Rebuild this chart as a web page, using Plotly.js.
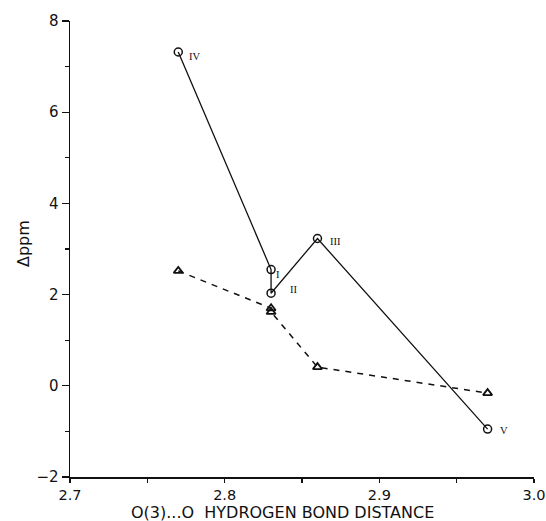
<!DOCTYPE html>
<html><head><meta charset="utf-8">
<script src="https://cdn.plot.ly/plotly-3.0.1.min.js"></script>
<style>body{margin:0;background:#fff}#chart{width:546px;height:521px}</style>
</head><body><div id="chart"></div>
<script>
const circleX = [2.77, 2.83, 2.83, 2.86, 2.97];
const circleY = [7.32, 2.55, 2.03, 3.23, -0.95];
const circleLabels = ["IV", "I", "II", "III", "V"];
const triX = [2.77, 2.83, 2.83, 2.86, 2.97];
const triY = [2.52, 1.70, 1.62, 0.41, -0.16];
const xTicks = [2.7, 2.8, 2.9, 3.0];
const yTicks = [-2, 0, 2, 4, 6, 8];

const labelOffsets = [[16, -4], [7, -5], [22, 4], [18, -3], [16, -1]];

const traces = [
  {x: circleX, y: circleY, mode: 'lines+markers', type: 'scatter',
   line: {color: '#111', width: 1.3},
   marker: {symbol: 'circle-open', size: 8, color: '#111', line: {width: 1.5}}},
  {x: triX, y: triY, mode: 'lines+markers', type: 'scatter',
   line: {color: '#111', width: 1.5, dash: '6px,6px'},
   marker: {symbol: 'triangle-up-open', size: 8, color: '#111', line: {width: 1.8}}}
];

const annotations = circleLabels.map((t, i) => ({
  x: circleX[i], y: circleY[i], xref: 'x', yref: 'y', text: t, showarrow: false,
  xshift: labelOffsets[i][0], yshift: labelOffsets[i][1],
  font: {family: 'Liberation Serif', size: 10.5, color: '#111'}
}));
annotations.push({
  x: 0.459, y: 0, xref: 'paper', yref: 'paper', yshift: -35, xanchor: 'center', yanchor: 'middle',
  text: 'O(3)...O  HYDROGEN BOND DISTANCE', showarrow: false, borderpad: 0,
  font: {family: 'DejaVu Sans', size: 16, color: '#111111'}
});
annotations.push({
  x: 0, y: 0.511, xref: 'paper', yref: 'paper', xshift: -46, xanchor: 'center', yanchor: 'middle',
  text: '\u0394ppm', textangle: -90, showarrow: false,
  font: {family: 'DejaVu Sans', size: 16, color: '#111111'}
});

const layout = {
  width: 546, height: 521,
  margin: {l: 70, r: 12, t: 21, b: 44},
  paper_bgcolor: '#fff', plot_bgcolor: '#fff',
  showlegend: false,
  font: {family: 'DejaVu Sans', color: '#111111', size: 15},
  xaxis: {range: [2.7, 3.0], tickvals: xTicks, ticktext: xTicks.map(v => v.toFixed(1)),
    showgrid: false, zeroline: false, showline: true, linecolor: '#111', linewidth: 1.5,
    ticks: 'outside', ticklen: 4, tickwidth: 1.3, tickcolor: '#111', ticklabeloverflow: 'allow',
    minor: {tickvals: [2.75, 2.85, 2.95], ticks: 'outside', ticklen: 4, tickwidth: 1.2, tickcolor: '#111'},
    tickfont: {size: 14.5, color: '#111111'}},
  yaxis: {range: [-2, 8], tickvals: yTicks, ticktext: yTicks.map(v => v < 0 ? '\u2212' + Math.abs(v) : String(v)),
    showgrid: false, zeroline: false, showline: true, linecolor: '#111', linewidth: 1.5,
    ticks: 'outside', ticklen: 7, tickwidth: 1.3, tickcolor: '#111',
    minor: {tickvals: [-1, 1, 3, 5, 7], ticks: 'outside', ticklen: 4, tickwidth: 1.2, tickcolor: '#111'},
    tickfont: {size: 15, color: '#111111'}},
  annotations: annotations
};
Plotly.newPlot('chart', traces, layout, {displayModeBar: false, staticPlot: true});
</script></body></html>
